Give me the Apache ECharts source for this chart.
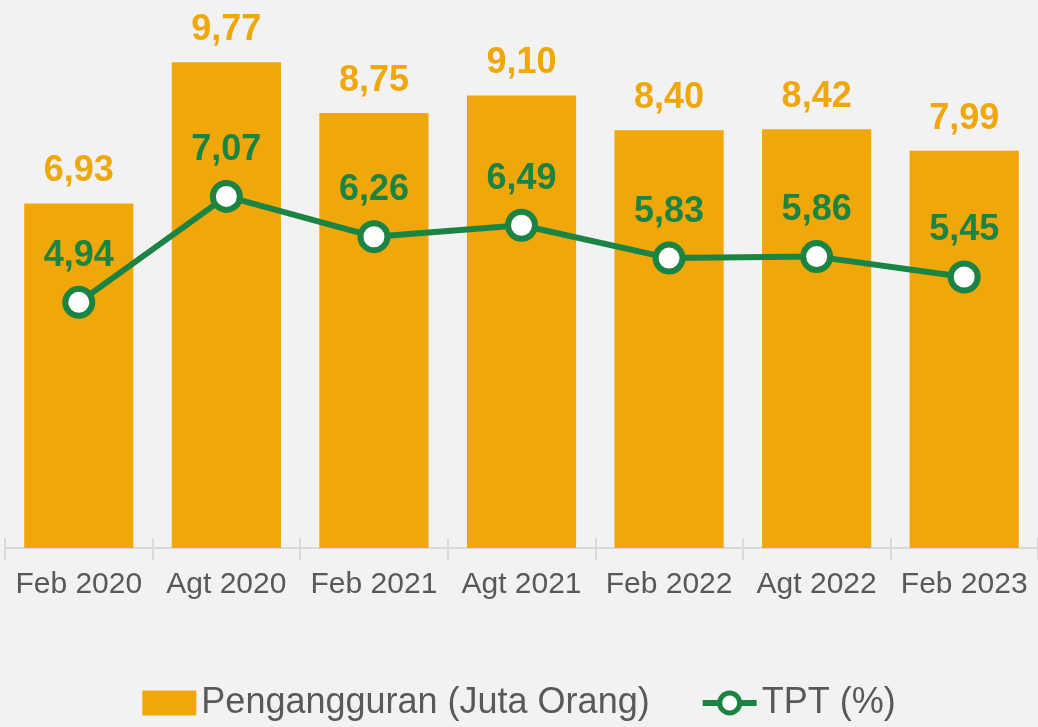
<!DOCTYPE html>
<html>
<head>
<meta charset="utf-8">
<script src="https://cdn.jsdelivr.net/npm/echarts@6/dist/echarts.min.js"></script>
<style>
html,body{margin:0;padding:0;background:#f2f2f2;}
#chart{width:1038px;height:727px;}
</style>
</head>
<body>
<div id="chart"></div>
<script>
// data
var periods = ['Feb 2020','Agt 2020','Feb 2021','Agt 2021','Feb 2022','Agt 2022','Feb 2023'];
var pengangguran = [6.93, 9.77, 8.75, 9.10, 8.40, 8.42, 7.99];
var tpt = [4.94, 7.07, 6.26, 6.49, 5.83, 5.86, 5.45];

var orange = '#f0a70a';
var green = '#1c8442';
var fontMain = "'Liberation Sans Narrow','Arial Narrow','Liberation Sans',Arial,sans-serif";

function fmt(v){
	return v.toFixed(2).replace('.', ',');
}

var myChart = echarts.init(document.getElementById('chart'));
var option = {
	backgroundColor: '#f2f2f2',
	animation: false,
	grid: {
		left: 5,
		right: -7,
		top: 1,
		bottom: 179
	},
	legend: {
		bottom: 1,
		left: 'center',
		itemGap: 50,
		itemWidth: 54,
		itemHeight: 25,
		textStyle: {
			fontFamily: fontMain,
			fontSize: 36,
			color: '#595959'
		},
		data: [
			{name: 'Pengangguran (Juta Orang)', icon: 'rect'},
			{name: 'TPT (%)', lineStyle: {width: 6}, itemStyle: {borderWidth: 5}}
		]
	},
	xAxis: [
		{
			type: 'category',
			data: periods,
			axisLine: {lineStyle: {color: '#d9d9d9', width: 2}},
			axisTick: {show: true, length: 12, lineStyle: {color: '#d9d9d9', width: 2}},
			axisLabel: {
				interval: 0,
				margin: 22,
				fontFamily: fontMain,
				fontSize: 30,
				color: '#595959'
			}
		},
		{
			type: 'category',
			data: periods,
			position: 'bottom',
			axisLine: {show: false},
			axisTick: {show: true, inside: true, length: 10, lineStyle: {color: '#d9d9d9', width: 2}},
			axisLabel: {show: false}
		}
	],
	yAxis: {
		type: 'value',
		min: 0,
		max: 11,
		show: false,
		splitLine: {show: false}
	},
	series: [
		{
			name: 'Pengangguran (Juta Orang)',
			type: 'bar',
			data: pengangguran,
			barCategoryGap: '26%',
			itemStyle: {color: orange},
			label: {
				show: true,
				position: 'top',
				distance: 14,
				fontFamily: fontMain,
				fontWeight: 'bold',
				fontSize: 36,
				color: orange,
				formatter: function(p){ return fmt(p.value); }
			}
		},
		{
			name: 'TPT (%)',
			type: 'line',
			data: tpt,
			symbol: 'circle',
			symbolSize: 27,
			lineStyle: {color: green, width: 6},
			itemStyle: {color: '#ffffff', borderColor: green, borderWidth: 6},
			label: {
				show: true,
				position: 'top',
				distance: 12,
				fontFamily: fontMain,
				fontWeight: 'bold',
				fontSize: 36,
				color: green,
				formatter: function(p){ return fmt(p.value); }
			},
			z: 5
		}
	]
};
myChart.setOption(option);
</script>
</body>
</html>
